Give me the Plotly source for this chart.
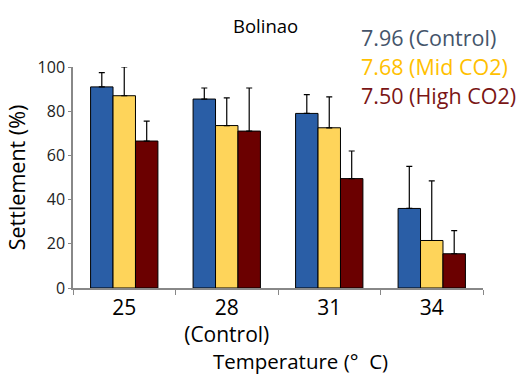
import plotly.graph_objects as go

categories = ["25", "28<br>(Control)", "31", "34"]
series_names = ["7.96 (Control)", "7.68 (Mid CO2)", "7.50 (High CO2)"]
control = [91, 85.5, 79, 36]
mid = [87, 73.5, 72.5, 21.5]
high = [66.5, 71, 49.5, 15.5]
control_err = [6.5, 5, 8.5, 19]
mid_err = [13, 12.5, 14, 27]
high_err = [9, 19.5, 12.5, 10.5]

bar_colors = ["#2A5EA6", "#FED45A", "#6B0000"]
text_colors = ["#44546A", "#FFC000", "#7A1515"]
FONT = "Open Sans"

fig = go.Figure()
for name, vals, errs, col in zip(series_names, [control, mid, high],
                                 [control_err, mid_err, high_err], bar_colors):
    fig.add_trace(go.Bar(
        x=categories, y=vals, name=name,
        marker=dict(color=col, line=dict(color="black", width=1)),
        error_y=dict(type="data", array=errs, arrayminus=[0] * len(errs),
                     symmetric=False, color="black", thickness=1.2, width=3),
        showlegend=False,
    ))

for i, (name, col) in enumerate(zip(series_names, text_colors)):
    fig.add_annotation(text=name, xref="paper", yref="paper", x=(359 - 73) / 410,
                       xanchor="left", y=(288.5 - (37 + 29.5 * i)) / 221.5,
                       yanchor="middle", showarrow=False,
                       font=dict(family=FONT, size=21.5, color=col))

fig.add_annotation(text="Bolinao", xref="paper", yref="paper", x=(265 - 73) / 410,
                   y=(288.5 - 25) / 221.5, xanchor="center", yanchor="middle",
                   showarrow=False, font=dict(family=FONT, size=18.5, color="black"))
fig.add_annotation(text="Temperature (°  C)", xref="paper", yref="paper",
                   x=(300 - 73) / 410, y=(288.5 - 362) / 221.5,
                   xanchor="center", yanchor="middle", showarrow=False, borderpad=0,
                   font=dict(family=FONT, size=20.5, color="black"))

fig.update_layout(
    width=520, height=376,
    margin=dict(l=73, r=37, t=67, b=87.5),
    paper_bgcolor="white", plot_bgcolor="white",
    barmode="group", bargap=0.343, bargroupgap=0,
    font=dict(family=FONT, color="black"),
    xaxis=dict(showline=True, linecolor="#888888", linewidth=1.5,
               ticks="outside", tickson="boundaries", ticklen=5, tickcolor="#888888",
               tickfont=dict(size=21, color="black"), showgrid=False),
    yaxis=dict(range=[0, 100], showline=True, linecolor="#888888", linewidth=1.5,
               ticks="outside", ticklen=3, tickcolor="#888888", dtick=20,
               tickfont=dict(size=16, color="#222222"), showgrid=False, zeroline=False,
               title=dict(text="Settlement (%)", font=dict(size=21.5, color="black"),
                          standoff=6)),
)

fig.write_html("out.html", config={"displayModeBar": False},
               post_script="document.body.style.margin='0';")
